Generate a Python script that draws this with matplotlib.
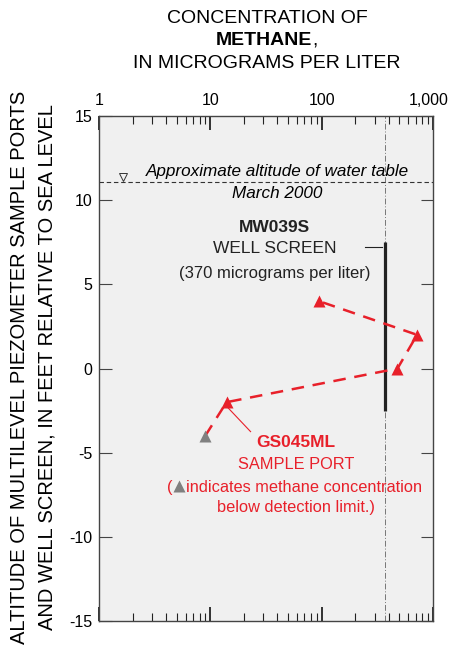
import matplotlib
matplotlib.use("Agg")
import matplotlib.pyplot as plt
import matplotlib.transforms as mtransforms
from matplotlib.ticker import FixedLocator, NullFormatter

plt.rcParams['font.family'] = ['Liberation Sans', 'DejaVu Sans']
plt.rcParams['axes.unicode_minus'] = False

# methane at sample ports (micrograms per liter) vs altitude (ft)
port_conc = [9, 14, 480, 720, 95]
port_alt = [-4, -2, 0, 2, 4]
below_limit = [True, False, False, False, False]

well_conc = 370
well_top = 7.5
well_bottom = -2.5
water_table = 11.1

xticks = [1, 10, 100, 1000]
xticklabels = ['1', '10', '100', '1,000']
yticks = [-15, -10, -5, 0, 5, 10, 15]

red = '#e8202a'
gray = '#808080'
dark = '#222222'

fig = plt.figure(figsize=(4.51, 6.46), dpi=100)
ax = fig.add_axes([0.2195, 0.0387, 0.7405, 0.7817])
ax.set_facecolor('#f0f0f0')
ax.set_xscale('log')
ax.set_xlim(1, 1000)
ax.set_ylim(-15, 15)

# well screen concentration line and screen interval
ax.axvline(well_conc, color='#777777', lw=0.7, ls=(0, (6, 2, 1, 2)))
ax.plot([well_conc, well_conc], [well_bottom, well_top], color=dark, lw=2.3, solid_capstyle='butt')

# water table
ax.axhline(water_table, color='#333333', lw=0.8, ls=(0, (4, 2.5)))
ax.plot(1.64, 11.35, marker='v', ms=6, mfc='none', mec='#333333', mew=0.7)
ax.text(40, 11.73, 'Approximate altitude of water table', style='italic',
        fontsize=12.3, ha='center', va='center')
ax.text(40, 10.4, 'March 2000', style='italic', fontsize=12.3, ha='center', va='center')

# sample ports
ax.plot(port_conc, port_alt, color=red, lw=1.8, ls=(0, (5, 3.5)))
for c, a, b in zip(port_conc, port_alt, below_limit):
    ax.plot(c, a, marker='^', ms=8.5, color=gray if b else red, mec='none')

# well screen label
ax.text(38, 8.35, 'MW039S', fontsize=12.5, fontweight='bold', ha='center', va='center', color=dark)
ax.text(38, 7.15, 'WELL SCREEN', fontsize=12.5, ha='center', va='center', color=dark)
ax.plot([245, 350], [7.2, 7.2], color=dark, lw=0.8)
ax.text(38, 5.67, '(370 micrograms per liter)', fontsize=12, ha='center', va='center', color=dark)

# sample port label
ax.plot([14.5, 23], [-2.35, -3.75], color=red, lw=0.8)
ax.text(59, -4.4, 'GS045ML', fontsize=12.5, fontweight='bold', ha='center', va='center', color=red)
ax.text(59, -5.73, 'SAMPLE PORT', fontsize=11.8, ha='center', va='center', color=red)
ax.text(4.62, -7.04, '(', fontsize=11.8, ha='right', va='center', color=red)
ax.plot(5.25, -7.0, marker='^', ms=8.5, color=gray, mec='none')
ax.text(6.1, -7.04, 'indicates methane concentration', fontsize=11.8, ha='left', va='center', color=red)
ax.text(59, -8.23, 'below detection limit.)', fontsize=11.8, ha='center', va='center', color=red)

# axes styling
for s in ax.spines.values():
    s.set_color('#444444')
    s.set_linewidth(1.0)
ax.xaxis.set_major_locator(FixedLocator(xticks))
ax.xaxis.set_major_formatter(NullFormatter())
ax.xaxis.set_minor_locator(FixedLocator([m * d for d in [1, 10, 100] for m in range(2, 10)]))
ax.xaxis.set_minor_formatter(NullFormatter())
ax.tick_params(axis='x', which='both', direction='in', top=True, bottom=True,
               labeltop=False, labelbottom=False, color=dark)
ax.tick_params(axis='x', which='major', length=10, width=1.3)
ax.tick_params(axis='x', which='minor', length=6, width=0.8)

# top labels, the last one pulled in a bit so it stays inside the figure
top = mtransforms.blended_transform_factory(ax.transData, ax.transAxes)
for v, lab in zip(xticks, xticklabels):
    dx = -4 if v == xticks[-1] else 0
    tr = mtransforms.offset_copy(top, fig=fig, x=dx, y=11, units='dots')
    ax.text(v, 1.0, lab, transform=tr, fontsize=11.5, ha='center', va='baseline')

ax.set_yticks(yticks)
ax.tick_params(axis='y', direction='in', left=True, right=True, length=9, width=0.8,
               labelsize=11.5, color='#444444', pad=5)

fig.text(0.592, 0.972, 'CONCENTRATION OF', fontsize=14, ha='center', va='center')
fig.text(0.693, 0.937, 'METHANE', fontsize=14, fontweight='bold', ha='right', va='center')
fig.text(0.693, 0.937, ',', fontsize=14, ha='left', va='center')
fig.text(0.592, 0.902, 'IN MICROGRAMS PER LITER', fontsize=14, ha='center', va='center')

fig.text(0.044, 0.432, 'ALTITUDE OF MULTILEVEL PIEZOMETER SAMPLE PORTS', fontsize=14.5,
         rotation=90, ha='center', va='center')
fig.text(0.104, 0.432, 'AND WELL SCREEN, IN FEET RELATIVE TO SEA LEVEL', fontsize=14.5,
         rotation=90, ha='center', va='center')

fig.savefig('out.png', dpi=100)
